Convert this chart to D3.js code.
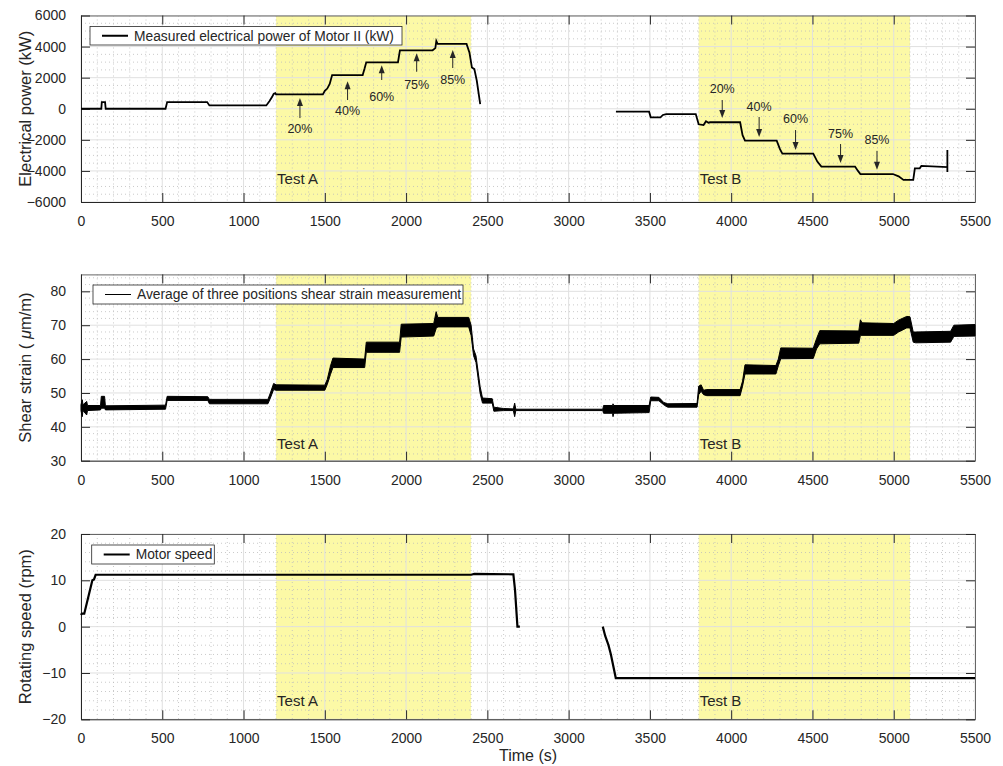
<!DOCTYPE html>
<html>
<head>
<meta charset="utf-8">
<script src="https://cdn.jsdelivr.net/npm/d3@7"></script>
<style>
  body { margin: 0; background: #fff; }
  text { font-family: "Liberation Sans", Arial, Helvetica, sans-serif; fill: #262626; }
</style>
</head>
<body>
<div id="chart"></div>
<script>
// ---- data ----
const xTicks = [0, 500, 1000, 1500, 2000, 2500, 3000, 3500, 4000, 4500, 5000, 5500];
const powerTicks = [-6000, -4000, -2000, 0, 2000, 4000, 6000];
const strainTicks = [30, 40, 50, 60, 70, 80];
const speedTicks = [-20, -10, 0, 10, 20];

const testRanges = [[1200, 2400], [3800, 5100]];
const testNames = ['Test A', 'Test B'];

// electrical power (kW), two recorded segments
const powerSeg1 = [[0,0],[125,0],[128,430],[148,430],[152,0],[520,0],[530,430],[776,430],[790,215],[1140,215],
  [1160,500],[1175,750],[1185,950],[1195,1000],[1200,925],[1488,925],[1500,1150],[1515,1300],[1530,1600],[1545,2170],
  [1733,2170],[1745,2600],[1755,2990],[1950,2990],[1962,3760],[2163,3760],[2180,3900],[2186,4360],[2194,4170],
  [2372,4170],[2390,3600],[2405,2650],[2420,2550],[2435,1800],[2456,300]];
const powerSeg2 = [[3291,-190],[3495,-190],[3505,-550],[3565,-550],[3580,-400],[3600,-340],[3782,-340],[3800,-1000],
  [3830,-1050],[3845,-800],[3860,-900],[3870,-870],[4055,-870],[4070,-1700],[4085,-2050],[4280,-2050],[4300,-2600],
  [4315,-2890],[4505,-2890],[4530,-3400],[4555,-3720],[4762,-3720],[4780,-4000],[4795,-4200],[4995,-4200],
  [5030,-4350],[5060,-4580],[5120,-4580],[5130,-3830],[5160,-3830],[5170,-3680],[5330,-3750],[5330,-2650],[5330,-4070]];

// shear strain band: time, low, high (µm/m)
const strainT  = [0,8,12,35,40,120,125,145,150,520,530,780,790,1150,1165,1185,1200,1500,1515,1535,1550,1745,1755,1960,
  1970,2170,2185,2195,2385,2400,2415,2430,2455,2470,2530,2540,2600,2660,2668,2675,3210,3215,3270,3273,3278,3495,3505,
  3555,3585,3610,3790,3800,3815,3830,3850,4055,4070,4085,4275,4290,4305,4505,4525,4545,4785,4795,4805,5000,5030,5080,
  5100,5120,5135,5350,5370,5500];
const strainLo = [44.8,43,44.8,43.5,44.8,45,45.5,45.5,45,45.2,47.8,47.8,46.8,46.8,48.5,51,50.8,50.8,52.5,55.5,57.5,57.5,62,62,
  66.5,66.8,69,69.5,69.5,67,61,59,50,47,47,44.6,44.8,44.8,43,44.8,44.8,44,44,43,44,44.2,47.7,
  47.7,46.5,45.8,45.8,49.5,50.5,49.5,49.2,49.2,52,55.6,55.6,58,60.1,60.2,63,64.5,64.7,67,67,67,68,69.2,
  69.2,65,64.8,65,66.7,66.8];
const strainHi = [46.5,48,46.5,47.5,46.3,46.3,49,49,46.2,46.4,49,48.9,48.1,48.1,50,52.8,52.4,52.3,54,58,60.3,60,65,65,
  70.3,70.5,74,72.3,72.3,70,63,61,52,48.5,48.3,45.8,45.4,45.3,47,45.2,45.2,46.3,46.3,46.8,46.3,46.3,48.8,
  48.7,47.2,46.8,46.9,52,52.4,50.8,51,51,53.5,58.3,58.1,60,63.3,63.2,66,68.4,68.3,71.6,70.7,70.5,71.5,72.6,
  72.5,68,68,68.2,70,70.2];

// motor speed (rpm)
const speedSeg1 = [[0,2.5],[5,2.8],[20,2.8],[70,10],[80,10.2],[90,11.2],[2400,11.2],[2420,11.4],[2660,11.3],[2670,8],[2685,0],[2700,0]];
const speedSeg2 = [[3210,0],[3225,-2],[3245,-4],[3260,-6],[3290,-11.1],[5500,-11.1]];

// load-step annotations
const loadLabels = ['20%', '40%', '60%', '75%', '85%'];
const arrowAX = [1347, 1640, 1850, 2065, 2287];
const arrowABase = [-600, 560, 1850, 2380, 2620];
const arrowATip = [690, 1770, 2800, 3570, 3775];
const labelAY = [-1300, -125, 750, 1530, 1850];
const arrowBX = [3945, 4172, 4396, 4673, 4897];
const arrowBBase = [560, -530, -1370, -2270, -2710];
const arrowBTip = [-600, -1810, -2650, -3490, -3930];
const labelBY = [1270, 110, -660, -1620, -2000];

// ---- layout ----
const W = 1003, H = 766;
const left = 81, right = 975;

const svg = d3.select('#chart').append('svg')
  .attr('width', W).attr('height', H);

const x = d3.scaleLinear().domain([0, 5500]).range([left, right]);

function drawPanel(cfg) {
  const y = d3.scaleLinear().domain(cfg.domain).range([cfg.bottom, cfg.top]);
  const g = svg.append('g');

  // shaded test windows
  g.selectAll('.shade').data(testRanges).join('rect')
    .attr('x', d => x(d[0])).attr('width', d => x(d[1]) - x(d[0]))
    .attr('y', cfg.top).attr('height', cfg.bottom - cfg.top)
    .attr('fill', '#fcf9a6');

  // minor grid
  const xMinor = d3.range(100, 5500, 100).filter(v => v % 500 !== 0);
  const yMinor = d3.range(cfg.domain[0] + cfg.minor, cfg.domain[1], cfg.minor)
    .filter(v => !cfg.ticks.some(t => Math.abs(t - v) < 1e-6));
  g.selectAll('.xminor').data(xMinor).join('line')
    .attr('x1', d => x(d)).attr('x2', d => x(d)).attr('y1', cfg.top).attr('y2', cfg.bottom)
    .attr('stroke', '#bdbdbd').attr('stroke-width', 0.8).attr('stroke-dasharray', '1,3');
  g.selectAll('.yminor').data(yMinor).join('line')
    .attr('x1', left).attr('x2', right).attr('y1', d => y(d)).attr('y2', d => y(d))
    .attr('stroke', '#bdbdbd').attr('stroke-width', 0.8).attr('stroke-dasharray', '1,3');

  // major grid
  g.selectAll('.xgrid').data(xTicks).join('line')
    .attr('x1', d => x(d)).attr('x2', d => x(d)).attr('y1', cfg.top).attr('y2', cfg.bottom)
    .attr('stroke', '#e0e0e0').attr('stroke-width', 1);
  g.selectAll('.ygrid').data(cfg.ticks).join('line')
    .attr('x1', left).attr('x2', right).attr('y1', d => y(d)).attr('y2', d => y(d))
    .attr('stroke', '#e0e0e0').attr('stroke-width', 1);

  // axes with inward ticks on all four sides (matlab box)
  const tk = 9;
  const styleAxis = a => {
    a.select('.domain').attr('stroke', '#262626');
    a.selectAll('.tick line').attr('stroke', '#262626');
    a.selectAll('.tick text').attr('font-size', 14).attr('fill', '#262626')
      .attr('font-family', '"Liberation Sans", Arial, sans-serif');
  };
  g.append('g').attr('transform', `translate(0,${cfg.bottom})`)
    .call(d3.axisBottom(x).tickValues(xTicks).tickSizeInner(-tk).tickSizeOuter(0).tickPadding(14).tickFormat(d3.format('d')))
    .call(styleAxis);
  g.append('g').attr('transform', `translate(0,${cfg.top})`)
    .call(d3.axisTop(x).tickValues(xTicks).tickSizeInner(-tk).tickSizeOuter(0).tickFormat(''))
    .call(styleAxis).call(a => a.select('.domain').attr('stroke', '#666'));
  g.append('g').attr('transform', `translate(${left},0)`)
    .call(d3.axisLeft(y).tickValues(cfg.ticks).tickSizeInner(-tk).tickSizeOuter(0).tickPadding(15).tickFormat(d3.format('d')))
    .call(styleAxis);
  g.append('g').attr('transform', `translate(${right},0)`)
    .call(d3.axisRight(y).tickValues(cfg.ticks).tickSizeInner(-tk).tickSizeOuter(0).tickFormat(''))
    .call(styleAxis).call(a => a.select('.domain').attr('stroke', '#666'));

  // y label
  const yl = g.append('text')
    .attr('transform', `translate(25,${(cfg.top + cfg.bottom) / 2}) rotate(-90)`)
    .attr('text-anchor', 'middle').attr('dy', '0.35em')
    .attr('font-size', 16.5);
  cfg.label(yl);

  // test labels
  g.selectAll('.testlbl').data(testRanges).join('text')
    .attr('x', d => x(d[0]) + 1).attr('y', y(cfg.testY)).attr('dy', '0.35em')
    .attr('font-size', 15).attr('fill', '#1a1a1a')
    .text((d, i) => testNames[i]);

  return { g, y };
}

function drawLegend(g, bx, by, bw, bh, text, lw) {
  const lg = g.append('g');
  lg.append('rect').attr('x', bx).attr('y', by).attr('width', bw).attr('height', bh)
    .attr('fill', '#fff').attr('stroke', '#262626').attr('stroke-width', 0.8);
  lg.append('line').attr('x1', bx + 12).attr('x2', bx + 38).attr('y1', by + bh / 2).attr('y2', by + bh / 2)
    .attr('stroke', '#000').attr('stroke-width', lw);
  lg.append('text').attr('x', bx + 44).attr('y', by + bh / 2).attr('dy', '0.35em')
    .attr('font-size', 13.8).attr('fill', '#000').text(text);
}

// ---- panel 1: electrical power ----
const p1 = drawPanel({
  top: 15.5, bottom: 202, domain: [-6000, 6000], ticks: powerTicks, minor: 500, testY: -4500,
  label: t => t.text('Electrical power (kW)')
});
const line1 = d3.line().x(d => x(d[0])).y(d => p1.y(d[1]));
p1.g.selectAll('.pw').data([powerSeg1, powerSeg2]).join('path')
  .attr('d', line1).attr('fill', 'none').attr('stroke', '#000').attr('stroke-width', 1.8);

function arrow(g, y, xv, base, tip) {
  const x0 = x(xv), y0 = y(base), y1 = y(tip);
  const dir = y1 < y0 ? 1 : -1; // 1 = pointing up
  g.append('line').attr('x1', x0).attr('x2', x0).attr('y1', y0).attr('y2', y1 + dir * 6)
    .attr('stroke', '#262626').attr('stroke-width', 1);
  g.append('path')
    .attr('d', `M${x0},${y1} L${x0 - 3},${y1 + dir * 8} L${x0 + 3},${y1 + dir * 8} Z`)
    .attr('fill', '#262626');
}
loadLabels.forEach((lbl, i) => {
  arrow(p1.g, p1.y, arrowAX[i], arrowABase[i], arrowATip[i]);
  p1.g.append('text').attr('x', x(arrowAX[i])).attr('y', p1.y(labelAY[i])).attr('dy', '0.35em')
    .attr('text-anchor', 'middle').attr('font-size', 12.5).attr('fill', '#1a1a1a').text(lbl);
  arrow(p1.g, p1.y, arrowBX[i], arrowBBase[i], arrowBTip[i]);
  p1.g.append('text').attr('x', x(arrowBX[i])).attr('y', p1.y(labelBY[i])).attr('dy', '0.35em')
    .attr('text-anchor', 'middle').attr('font-size', 12.5).attr('fill', '#1a1a1a').text(lbl);
});
drawLegend(p1.g, 90, 26.5, 312, 18.5, 'Measured electrical power of Motor II (kW)', 2);

// ---- panel 2: shear strain ----
const p2 = drawPanel({
  top: 274.4, bottom: 460.7, domain: [30, 85], ticks: strainTicks, minor: 2, testY: 35,
  label: t => {
    t.append('tspan').text('Shear strain ( ');
    t.append('tspan').attr('font-style', 'italic').text('\u03bc');
    t.append('tspan').text('m/m)');
  }
});
const band = d3.area()
  .x((d, i) => x(strainT[i]))
  .y0((d, i) => p2.y(strainLo[i]))
  .y1((d, i) => p2.y(strainHi[i]));
p2.g.append('path').datum(strainT).attr('d', band)
  .attr('fill', '#000').attr('stroke', '#000').attr('stroke-width', 1);
drawLegend(p2.g, 93, 285, 370, 19, 'Average of three positions shear strain measurement', 1);

// ---- panel 3: motor speed ----
const p3 = drawPanel({
  top: 534, bottom: 719.3, domain: [-20, 20], ticks: speedTicks, minor: 2, testY: -16,
  label: t => t.text('Rotating speed (rpm)')
});
const line3 = d3.line().x(d => x(d[0])).y(d => p3.y(d[1]));
p3.g.selectAll('.sp').data([speedSeg1, speedSeg2]).join('path')
  .attr('d', line3).attr('fill', 'none').attr('stroke', '#000').attr('stroke-width', 2.2);
drawLegend(p3.g, 91.7, 545, 122.6, 19, 'Motor speed', 2);

// x label
svg.append('text').attr('x', (left + right) / 2).attr('y', 755).attr('dy', '0.35em')
  .attr('text-anchor', 'middle').attr('font-size', 16).text('Time (s)');
</script>
</body>
</html>
